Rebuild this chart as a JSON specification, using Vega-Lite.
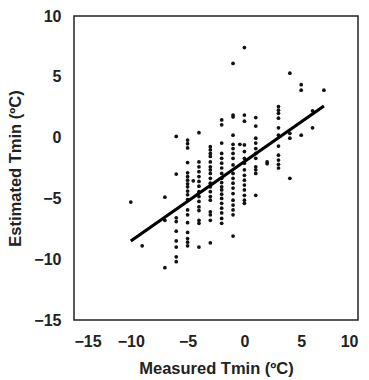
{
  "$schema": "https://vega.github.io/schema/vega-lite/v6.json",
  "autosize": "none",
  "padding": {"left": 74, "top": 16, "right": 11, "bottom": 60},
  "width": 284,
  "height": 304,
  "background": "white",
  "config": {
    "view": {"stroke": "#222", "strokeWidth": 1.5},
    "axis": {
      "grid": false, "ticks": false, "tickSize": 0, "domain": false,
      "labelFont": "Liberation Sans", "labelFontWeight": "bold", "labelFontSize": 16, "labelColor": "#222",
      "titleFont": "Liberation Sans", "titleFontWeight": "bold", "titleFontSize": 16.5, "titleColor": "#222"
    }
  },
  "datasets": {
    "pts": [
      {"x": -10, "y": -5.3}, {"x": -9, "y": -8.9},
      {"x": -7, "y": -4.9}, {"x": -7, "y": -6.8}, {"x": -7, "y": -10.7},
      {"x": -6, "y": 0.1}, {"x": -6, "y": -3.0}, {"x": -6, "y": -6.6}, {"x": -6, "y": -6.9}, {"x": -6, "y": -7.7}, {"x": -6, "y": -8.5}, {"x": -6, "y": -9.0}, {"x": -6, "y": -9.8}, {"x": -6, "y": -10.2},
      {"x": -5, "y": -0.2}, {"x": -5, "y": -0.5}, {"x": -5, "y": -0.85}, {"x": -5, "y": -2.05}, {"x": -5, "y": -2.9}, {"x": -5, "y": -3.2}, {"x": -5, "y": -3.5}, {"x": -5, "y": -3.8}, {"x": -5, "y": -4.05}, {"x": -5, "y": -4.4}, {"x": -5, "y": -4.7}, {"x": -5, "y": -5.1}, {"x": -5, "y": -5.95}, {"x": -5, "y": -6.35}, {"x": -5, "y": -7.0}, {"x": -5, "y": -7.8}, {"x": -5, "y": -8.3}, {"x": -5, "y": -8.6}, {"x": -5, "y": -8.9},
      {"x": -4.5, "y": -3.55},
      {"x": -4, "y": 0.4}, {"x": -4, "y": -2.0}, {"x": -4, "y": -2.4}, {"x": -4, "y": -2.8}, {"x": -4, "y": -3.2}, {"x": -4, "y": -3.6}, {"x": -4, "y": -4.0}, {"x": -4, "y": -4.45}, {"x": -4, "y": -4.85}, {"x": -4, "y": -5.25}, {"x": -4, "y": -5.7}, {"x": -4, "y": -6.0}, {"x": -4, "y": -6.8}, {"x": -4, "y": -7.05}, {"x": -4, "y": -9.0},
      {"x": -3, "y": -0.75}, {"x": -3, "y": -1.0}, {"x": -3, "y": -1.3}, {"x": -3, "y": -1.55}, {"x": -3, "y": -2.0}, {"x": -3, "y": -2.4}, {"x": -3, "y": -2.65}, {"x": -3, "y": -2.95}, {"x": -3, "y": -3.35}, {"x": -3, "y": -3.75}, {"x": -3, "y": -4.05}, {"x": -3, "y": -4.45}, {"x": -3, "y": -4.85}, {"x": -3, "y": -5.15}, {"x": -3, "y": -6.1}, {"x": -3, "y": -6.35}, {"x": -3, "y": -6.8}, {"x": -3, "y": -8.65},
      {"x": -2, "y": 1.45}, {"x": -2, "y": 1.05}, {"x": -2, "y": -0.45}, {"x": -2, "y": -1.3}, {"x": -2, "y": -1.7}, {"x": -2, "y": -2.1}, {"x": -2, "y": -2.5}, {"x": -2, "y": -2.95}, {"x": -2, "y": -3.35}, {"x": -2, "y": -3.7}, {"x": -2, "y": -4.05}, {"x": -2, "y": -4.3}, {"x": -2, "y": -4.65}, {"x": -2, "y": -5.0}, {"x": -2, "y": -5.4}, {"x": -2, "y": -5.8}, {"x": -2, "y": -6.2}, {"x": -2, "y": -6.65}, {"x": -2, "y": -7.05},
      {"x": -1, "y": 6.1}, {"x": -1, "y": 1.85}, {"x": -1, "y": 1.7}, {"x": -1, "y": 0.2}, {"x": -1, "y": -0.55}, {"x": -1, "y": -0.9}, {"x": -1, "y": -1.3}, {"x": -1, "y": -1.7}, {"x": -1, "y": -2.25}, {"x": -1, "y": -2.95}, {"x": -1, "y": -3.35}, {"x": -1, "y": -3.75}, {"x": -1, "y": -4.15}, {"x": -1, "y": -4.6}, {"x": -1, "y": -5.15}, {"x": -1, "y": -5.55}, {"x": -1, "y": -5.95}, {"x": -1, "y": -6.35}, {"x": -1, "y": -8.1},
      {"x": -0.4, "y": -0.55},
      {"x": 0, "y": 7.4}, {"x": 0, "y": 1.85}, {"x": 0, "y": 1.35}, {"x": 0, "y": -0.6}, {"x": 0, "y": -1.15}, {"x": 0, "y": -1.7}, {"x": 0, "y": -2.1}, {"x": 0, "y": -2.65}, {"x": 0, "y": -3.1}, {"x": 0, "y": -3.5}, {"x": 0, "y": -3.9}, {"x": 0, "y": -4.3}, {"x": 0, "y": -4.75}, {"x": 0, "y": -5.15}, {"x": 0, "y": -5.4},
      {"x": 1, "y": 1.65}, {"x": 1, "y": 0.95}, {"x": 1, "y": -0.05}, {"x": 1, "y": -0.45}, {"x": 1, "y": -0.9}, {"x": 1, "y": -1.3}, {"x": 1, "y": -1.7}, {"x": 1, "y": -2.4}, {"x": 1, "y": -2.65}, {"x": 1, "y": -2.95}, {"x": 1, "y": -4.75},
      {"x": 2, "y": -2.0}, {"x": 2, "y": -2.15},
      {"x": 3, "y": 2.55}, {"x": 3, "y": 2.25}, {"x": 3, "y": 2.0}, {"x": 3, "y": 1.6}, {"x": 3, "y": 0.8}, {"x": 3, "y": 0.2}, {"x": 3, "y": -0.7}, {"x": 3, "y": -1.45}, {"x": 3, "y": -1.85}, {"x": 3, "y": -2.2}, {"x": 3, "y": -2.5},
      {"x": 4, "y": 5.3}, {"x": 4, "y": 0.35}, {"x": 4, "y": -0.05}, {"x": 4, "y": -3.35},
      {"x": 5, "y": 4.35}, {"x": 5, "y": 3.9}, {"x": 5, "y": 0.2},
      {"x": 6, "y": 2.2}, {"x": 6, "y": 0.8},
      {"x": 7, "y": 3.9}
    ],
    "fit": [{"x": -10, "y": -8.5}, {"x": 7, "y": 2.6}]
  },
  "layer": [
    {
      "data": {"name": "pts"},
      "mark": {"type": "circle", "size": 14, "color": "#111", "opacity": 1},
      "encoding": {
        "x": {"field": "x", "type": "quantitative", "scale": {"domain": [-15, 10], "nice": false, "zero": false},
              "axis": {"values": [-15, -10, -5, 0, 5, 10], "title": "Measured Tmin (ºC)", "labelPadding": 13, "titlePadding": 11}},
        "y": {"field": "y", "type": "quantitative", "scale": {"domain": [-15, 10], "nice": false, "zero": false},
              "axis": {"values": [-15, -10, -5, 0, 5, 10], "title": "Estimated Tmin (ºC)", "labelPadding": 13, "titlePadding": 10}}
      }
    },
    {
      "data": {"name": "fit"},
      "mark": {"type": "line", "color": "#000", "strokeWidth": 3.2},
      "encoding": {
        "x": {"field": "x", "type": "quantitative"},
        "y": {"field": "y", "type": "quantitative"}
      }
    }
  ]
}
